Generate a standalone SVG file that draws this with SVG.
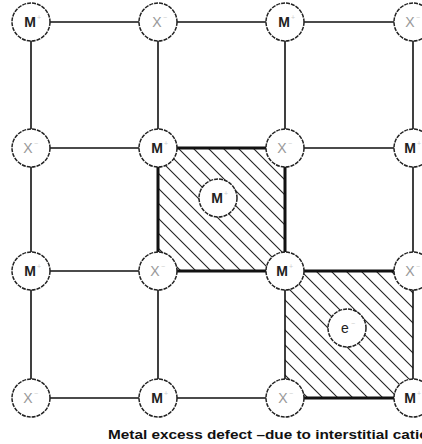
<svg xmlns="http://www.w3.org/2000/svg" width="422" height="444" viewBox="0 0 422 444">
<style>
.ln{stroke:#111;stroke-width:1.6;fill:none}
.thk{stroke:#111;stroke-width:3;fill:none}
.c{fill:#fff;stroke:#222;stroke-width:1.5;stroke-dasharray:4 1}
.m{font-family:"Liberation Sans",Arial,sans-serif;font-size:14px;font-weight:bold;fill:#222;text-anchor:middle}
.x{font-family:"Liberation Sans",Arial,sans-serif;font-size:14px;fill:#999;text-anchor:middle}
.s{font-family:"Liberation Sans",Arial,sans-serif;font-size:7px;fill:#ccc}
.cap{font-family:"Liberation Sans",Arial,sans-serif;font-size:12px;font-weight:bold;fill:#111}
</style>
<defs>
<pattern id="hatch" patternUnits="userSpaceOnUse" width="15" height="15">
<path d="M0,0 L15,15 M-2,13 L2,17 M13,-2 L17,2" stroke="#222" stroke-width="1.1"/>
</pattern>
</defs>
<rect x="158" y="148" width="127" height="123" fill="url(#hatch)"/>
<rect x="285" y="271" width="128" height="127" fill="url(#hatch)"/>
<g id="connectors">
<path class="ln" d="M31,22H413M31,148H413M31,271H413M31,398H413"/>
<path class="ln" d="M31,22V398M158,22V398M285,22V398M413,22V398"/>
<path class="thk" d="M158,148H285V271H158Z"/>
<path class="thk" d="M285,271H413M285,398H413"/>
</g>
<g id="n00"><circle class="c" cx="31" cy="22" r="19"/><text class="m" x="30" y="27">M</text><text class="s" x="37" y="20">+</text></g>
<g id="n01"><circle class="c" cx="158" cy="22" r="19"/><text class="x" x="157" y="27">X</text><text class="s" x="163" y="20">−</text></g>
<g id="n02"><circle class="c" cx="285" cy="22" r="19"/><text class="m" x="284" y="27">M</text><text class="s" x="291" y="20">+</text></g>
<g id="n03"><circle class="c" cx="413" cy="22" r="19"/><text class="x" x="410" y="27">X</text><text class="s" x="416" y="20">−</text></g>
<g id="n10"><circle class="c" cx="31" cy="148" r="19"/><text class="x" x="28" y="153">X</text><text class="s" x="34" y="146">−</text></g>
<g id="n11"><circle class="c" cx="158" cy="148" r="19"/><text class="m" x="157" y="153">M</text><text class="s" x="164" y="146">+</text></g>
<g id="n12"><circle class="c" cx="285" cy="148" r="19"/><text class="x" x="282" y="153">X</text><text class="s" x="288" y="146">−</text></g>
<g id="n13"><circle class="c" cx="413" cy="148" r="19"/><text class="m" x="410" y="153">M</text><text class="s" x="417" y="146">+</text></g>
<g id="n20"><circle class="c" cx="31" cy="271" r="19"/><text class="m" x="30" y="276">M</text><text class="s" x="37" y="269">+</text></g>
<g id="n21"><circle class="c" cx="158" cy="271" r="19"/><text class="x" x="155" y="276">X</text><text class="s" x="161" y="269">−</text></g>
<g id="n22"><circle class="c" cx="285" cy="271" r="19"/><text class="m" x="282" y="276">M</text><text class="s" x="289" y="269">+</text></g>
<g id="n23"><circle class="c" cx="413" cy="271" r="19"/><text class="x" x="410" y="276">X</text><text class="s" x="416" y="269">−</text></g>
<g id="n30"><circle class="c" cx="31" cy="398" r="19"/><text class="x" x="28" y="403">X</text><text class="s" x="34" y="396">−</text></g>
<g id="n31"><circle class="c" cx="158" cy="398" r="19"/><text class="m" x="157" y="403">M</text><text class="s" x="164" y="396">+</text></g>
<g id="n32"><circle class="c" cx="285" cy="398" r="19"/><text class="x" x="283" y="403">X</text><text class="s" x="289" y="396">−</text></g>
<g id="n33"><circle class="c" cx="413" cy="398" r="19"/><text class="m" x="410" y="403">M</text><text class="s" x="417" y="396">+</text></g>
<g id="interstitial"><circle class="c" cx="218" cy="198" r="19"/><text class="m" x="217" y="203">M</text><text class="s" x="224" y="196">+</text></g>
<g id="electron"><circle class="c" cx="347" cy="328" r="19"/><text class="m" x="345" y="333" style="font-weight:normal">e</text><text class="s" x="351" y="326">−</text></g>
<text class="cap" x="108" y="439" textLength="330" lengthAdjust="spacingAndGlyphs">Metal excess defect –due to interstitial cation</text>
</svg>
